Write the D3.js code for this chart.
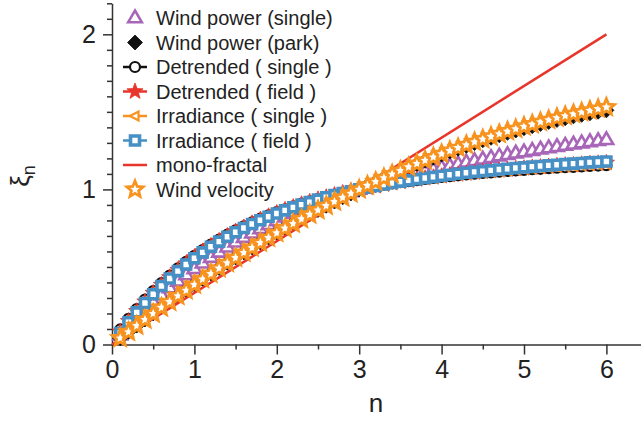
<!DOCTYPE html>
<html lang="en">
<head>
<meta charset="UTF-8">
<title>Scaling exponents xi(n)</title>
<style>
  body { margin: 0; background: #fff; }
  svg { display: block; font-family: "Liberation Sans", Arial, Helvetica, sans-serif; }
  .axis path, .axis line { stroke: #333; stroke-width: 1.5; }
  .axis text { font-size: 25px; fill: #222; font-family: "Liberation Sans", Arial, sans-serif; }
  .legend text { font-size: 20px; fill: #222; }
</style>
</head>
<body>
<svg width="641" height="421"></svg>
<script src="https://d3js.org/d3.v7.min.js"></script>
<script>
// moment order n
const nVals = [0.1,0.2,0.3,0.4,0.5,0.6,0.7,0.8,0.9,1.0,
               1.1,1.2,1.3,1.4,1.5,1.6,1.7,1.8,1.9,2.0,
               2.1,2.2,2.3,2.4,2.5,2.6,2.7,2.8,2.9,3.0,
               3.1,3.2,3.3,3.4,3.5,3.6,3.7,3.8,3.9,4.0,
               4.1,4.2,4.3,4.4,4.5,4.6,4.7,4.8,4.9,5.0,
               5.1,5.2,5.3,5.4,5.5,5.6,5.7,5.8,5.9,6.0];

const windPowerSingle = [0.060,0.116,0.171,0.222,0.272,0.319,0.364,0.407,0.448,0.487,
  0.524,0.560,0.594,0.627,0.659,0.689,0.717,0.745,0.771,0.797,
  0.821,0.844,0.866,0.888,0.908,0.928,0.947,0.966,0.983,1.000,
  1.016,1.032,1.047,1.062,1.076,1.090,1.103,1.116,1.128,1.140,
  1.151,1.163,1.174,1.184,1.194,1.204,1.214,1.223,1.233,1.241,
  1.250,1.259,1.267,1.275,1.283,1.291,1.298,1.306,1.313,1.320];

const windPowerPark = [0.041,0.082,0.122,0.161,0.200,0.240,0.277,0.315,0.351,0.388,
  0.423,0.458,0.493,0.527,0.561,0.594,0.626,0.658,0.690,0.721,
  0.751,0.781,0.811,0.840,0.867,0.895,0.922,0.949,0.974,1.000,
  1.025,1.049,1.073,1.097,1.119,1.142,1.163,1.184,1.204,1.225,
  1.244,1.262,1.281,1.299,1.317,1.333,1.349,1.365,1.380,1.395,
  1.408,1.422,1.435,1.448,1.459,1.471,1.481,1.491,1.501,1.510];

const detrendedSingle = [0.097,0.165,0.229,0.289,0.344,0.396,0.444,0.491,0.533,0.572,
  0.609,0.644,0.677,0.708,0.736,0.762,0.787,0.811,0.833,0.853,
  0.872,0.890,0.908,0.923,0.938,0.952,0.965,0.978,0.989,1.000,
  1.010,1.020,1.030,1.038,1.046,1.053,1.060,1.068,1.074,1.080,
  1.086,1.091,1.097,1.102,1.106,1.110,1.114,1.119,1.123,1.126,
  1.130,1.133,1.137,1.140,1.143,1.145,1.148,1.152,1.154,1.156];

const detrendedField = [0.083,0.151,0.215,0.276,0.332,0.384,0.433,0.480,0.522,0.562,
  0.600,0.635,0.668,0.700,0.729,0.755,0.781,0.805,0.827,0.848,
  0.868,0.886,0.904,0.920,0.936,0.950,0.964,0.977,0.988,1.000,
  1.011,1.021,1.031,1.040,1.049,1.056,1.064,1.072,1.078,1.085,
  1.092,1.097,1.103,1.109,1.114,1.118,1.123,1.128,1.132,1.136,
  1.141,1.144,1.148,1.152,1.156,1.158,1.162,1.166,1.168,1.171];

const irradianceSingle = [0.091,0.160,0.223,0.284,0.339,0.391,0.440,0.486,0.529,0.568,
  0.605,0.641,0.673,0.705,0.733,0.759,0.785,0.808,0.831,0.851,
  0.870,0.889,0.906,0.922,0.937,0.951,0.965,0.977,0.989,1.000,
  1.010,1.021,1.030,1.039,1.047,1.054,1.062,1.069,1.076,1.082,
  1.088,1.094,1.099,1.105,1.109,1.113,1.118,1.122,1.127,1.130,
  1.134,1.138,1.141,1.145,1.148,1.150,1.154,1.157,1.160,1.162];

const irradianceField = [0.074,0.143,0.207,0.268,0.324,0.377,0.426,0.473,0.516,0.556,
  0.594,0.630,0.663,0.695,0.724,0.751,0.777,0.801,0.824,0.845,
  0.865,0.884,0.902,0.918,0.934,0.949,0.963,0.976,0.988,1.000,
  1.011,1.022,1.032,1.041,1.050,1.058,1.066,1.074,1.081,1.088,
  1.095,1.101,1.107,1.113,1.118,1.123,1.128,1.133,1.138,1.142,
  1.147,1.151,1.155,1.159,1.163,1.166,1.170,1.174,1.177,1.180];

const monoN = [0, 6];
const monoXi = [0, 2];

const windVelocity = [0.041,0.081,0.121,0.160,0.199,0.238,0.275,0.313,0.349,0.386,
  0.421,0.456,0.491,0.525,0.559,0.592,0.624,0.656,0.688,0.719,
  0.749,0.779,0.809,0.838,0.866,0.894,0.921,0.948,0.974,1.000,
  1.025,1.050,1.074,1.098,1.121,1.144,1.166,1.187,1.208,1.229,
  1.249,1.268,1.287,1.306,1.324,1.341,1.358,1.375,1.390,1.406,
  1.420,1.435,1.448,1.462,1.474,1.487,1.498,1.509,1.520,1.530];

const xTicks = [0, 1, 2, 3, 4, 5, 6];
const yTicks = [0, 1, 2];

const purple = "#a866b8", orange = "#f7931e", red = "#e8352b", blue = "#4690c6";

// draw order = legend order
const series = [
  { name: "Wind power (single)", n: nVals, v: windPowerSingle, color: purple, shape: "triUp", line: false },
  { name: "Wind power (park)", n: nVals, v: windPowerPark, color: "#111", shape: "diamond", line: false },
  { name: "Detrended ( single )", n: nVals, v: detrendedSingle, color: "#111", shape: "circle", line: true },
  { name: "Detrended ( field )", n: nVals, v: detrendedField, color: red, shape: "starFill", line: true },
  { name: "Irradiance ( single )", n: nVals, v: irradianceSingle, color: orange, shape: "triLeft", line: true },
  { name: "Irradiance ( field )", n: nVals, v: irradianceField, color: blue, shape: "square", line: true },
  { name: "mono-fractal", n: monoN, v: monoXi, color: red, shape: null, line: true },
  { name: "Wind velocity", n: nVals, v: windVelocity, color: orange, shape: "starOpen", line: false }
];

const svg = d3.select("svg");
const x = d3.scaleLinear().domain([0, 6.42]).range([112, 641]);
const y = d3.scaleLinear().domain([0, 2.2]).range([344.5, 3.3]);

function starPath(R, r) {
  let p = "";
  for (let i = 0; i < 10; i++) {
    const a = -Math.PI / 2 + i * Math.PI / 5;
    const rr = i % 2 ? r : R;
    p += (i ? "L" : "M") + (rr * Math.cos(a)).toFixed(2) + "," + (rr * Math.sin(a)).toFixed(2);
  }
  return p + "Z";
}

function shapePath(shape) {
  switch (shape) {
    case "triUp": return "M0,-7.5L6.8,4.2L-6.8,4.2Z";
    case "diamond": return "M0,-7.5L7.5,0L0,7.5L-7.5,0Z";
    case "circle": return "M5,0A5,5 0 1,1 -5,0A5,5 0 1,1 5,0Z";
    case "starFill": return starPath(8.5, 3.6);
    case "starOpen": return starPath(8.5, 3.8);
    case "triLeft": return "M-5,0L3.5,-4.5L3.5,4.5Z";
    case "square": return "M-4.5,-4.5H4.5V4.5H-4.5Z";
  }
  return "";
}

function styleMarker(sel, s) {
  const filled = s.shape === "diamond" || s.shape === "starFill";
  sel.attr("d", shapePath(s.shape))
    .attr("fill", filled ? s.color : "#fff")
    .attr("stroke", s.color)
    .attr("stroke-width", s.shape === "square" ? 3.6 : filled ? 0.8 : s.shape === "starOpen" ? 2.8 : s.shape === "triUp" ? 2.6 : 2.2)
    .attr("stroke-linejoin", "miter");
}

// axes
svg.append("g").attr("class", "axis").attr("transform", `translate(0,${y(0)})`)
  .call(d3.axisBottom(x).tickValues(xTicks).tickFormat(d3.format("d")).tickSize(10).tickSizeOuter(0).tickPadding(6));
svg.append("g").attr("class", "axis").attr("transform", `translate(0,${y(0)})`)
  .call(d3.axisBottom(x).tickValues(x.ticks(13).filter(t => t % 1 !== 0)).tickSize(5).tickSizeOuter(0).tickFormat(""))
  .select(".domain").remove();

svg.append("g").attr("class", "axis").attr("transform", `translate(${x(0)},0)`)
  .call(d3.axisLeft(y).tickValues(yTicks).tickFormat(d3.format("d")).tickSize(9).tickSizeOuter(0).tickPadding(7));
svg.append("g").attr("class", "axis").attr("transform", `translate(${x(0)},0)`)
  .call(d3.axisLeft(y).tickValues(y.ticks(22).filter(t => Math.abs(t - Math.round(t)) > 1e-6)).tickSize(5).tickSizeOuter(0).tickFormat(""))
  .select(".domain").remove();

// axis titles
svg.append("text").attr("x", 376).attr("y", 412).attr("text-anchor", "middle")
  .attr("font-size", 26).attr("fill", "#222").text("n");
const yt = svg.append("text").attr("transform", "translate(29,176) rotate(-90)")
  .attr("text-anchor", "middle").attr("font-size", 26).attr("fill", "#222");
yt.append("tspan").text("ξ");
yt.append("tspan").attr("font-size", 18).attr("dy", 6).text("n");

// data
const plot = svg.append("g");
const lineGen = d3.line().x(d => x(d[0])).y(d => y(d[1]));
series.forEach(s => {
  const pts = s.n.map((n, i) => [n, s.v[i]]);
  const g = plot.append("g");
  if (s.line) {
    g.append("path").datum(pts).attr("d", lineGen)
      .attr("fill", "none").attr("stroke", s.color).attr("stroke-width", 2.5);
  }
  if (s.shape) {
    g.selectAll("path.m").data(pts).join("path").attr("class", "m")
      .attr("transform", d => `translate(${x(d[0])},${y(d[1])})`)
      .call(styleMarker, s);
  }
});

// legend
const legend = svg.append("g").attr("class", "legend");
series.forEach((s, i) => {
  const ly = 18 + i * 24.5;
  const row = legend.append("g").attr("transform", `translate(0,${ly})`);
  if (s.line) {
    row.append("line").attr("x1", 123).attr("x2", 147)
      .attr("stroke", s.color).attr("stroke-width", 2.5);
  }
  if (s.shape) {
    row.append("path").attr("transform", "translate(135,0)").call(styleMarker, s);
  }
  row.append("text").attr("x", 156).attr("dy", "0.35em").text(s.name);
});
</script>
</body>
</html>
